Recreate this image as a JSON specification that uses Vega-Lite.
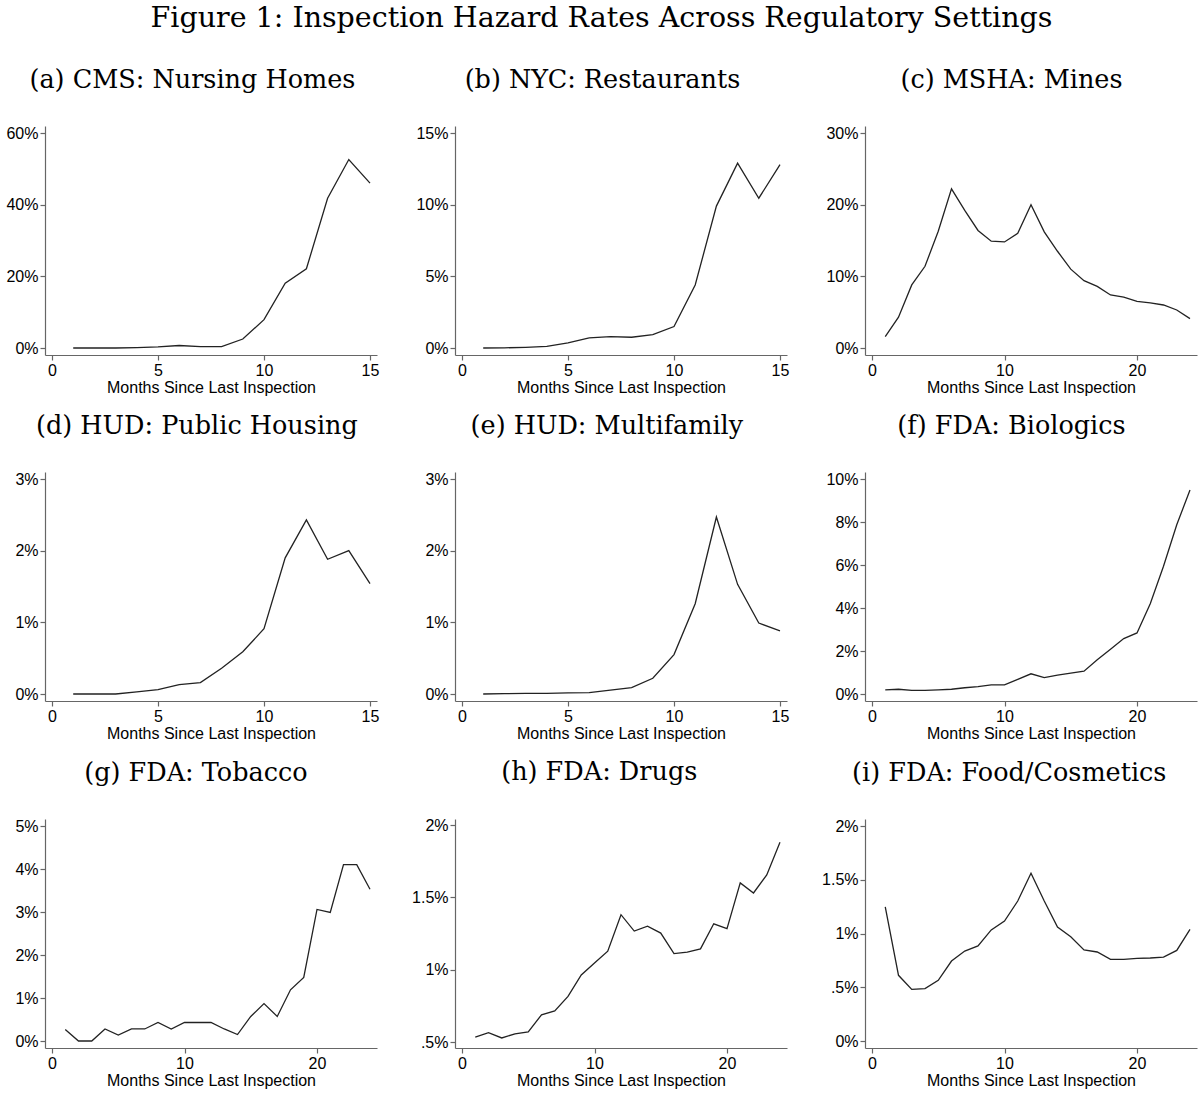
{
  "$schema": "https://vega.github.io/schema/vega-lite/v6.json",
  "background": "white",
  "padding": {"left": 5, "top": 4, "right": 5, "bottom": 5},
  "title": {"text": "Figure 1: Inspection Hazard Rates Across Regulatory Settings", "font": "DejaVu Serif", "fontSize": 28.5, "fontWeight": "normal", "anchor": "middle", "offset": 35, "color": "#000"},
  "datasets": {
    "rates": [
      {"panel":"a","month":1,"rate":0},{"panel":"a","month":2,"rate":0},{"panel":"a","month":3,"rate":0},{"panel":"a","month":4,"rate":0.1},{"panel":"a","month":5,"rate":0.3},{"panel":"a","month":6,"rate":0.7},{"panel":"a","month":7,"rate":0.4},{"panel":"a","month":8,"rate":0.4},{"panel":"a","month":9,"rate":2.5},{"panel":"a","month":10,"rate":7.9},{"panel":"a","month":11,"rate":18.1},{"panel":"a","month":12,"rate":22.1},{"panel":"a","month":13,"rate":41.8},{"panel":"a","month":14,"rate":52.6},{"panel":"a","month":15,"rate":46.0},
      {"panel":"b","month":1,"rate":0},{"panel":"b","month":2,"rate":0.01},{"panel":"b","month":3,"rate":0.05},{"panel":"b","month":4,"rate":0.12},{"panel":"b","month":5,"rate":0.35},{"panel":"b","month":6,"rate":0.7},{"panel":"b","month":7,"rate":0.8},{"panel":"b","month":8,"rate":0.75},{"panel":"b","month":9,"rate":0.93},{"panel":"b","month":10,"rate":1.5},{"panel":"b","month":11,"rate":4.4},{"panel":"b","month":12,"rate":9.9},{"panel":"b","month":13,"rate":12.9},{"panel":"b","month":14,"rate":10.45},{"panel":"b","month":15,"rate":12.8},
      {"panel":"c","month":1,"rate":1.6},{"panel":"c","month":2,"rate":4.3},{"panel":"c","month":3,"rate":8.8},{"panel":"c","month":4,"rate":11.4},{"panel":"c","month":5,"rate":16.3},{"panel":"c","month":6,"rate":22.2},{"panel":"c","month":7,"rate":19.2},{"panel":"c","month":8,"rate":16.4},{"panel":"c","month":9,"rate":14.9},{"panel":"c","month":10,"rate":14.8},{"panel":"c","month":11,"rate":16.0},{"panel":"c","month":12,"rate":20.0},{"panel":"c","month":13,"rate":16.2},{"panel":"c","month":14,"rate":13.5},{"panel":"c","month":15,"rate":11.0},{"panel":"c","month":16,"rate":9.4},{"panel":"c","month":17,"rate":8.6},{"panel":"c","month":18,"rate":7.4},{"panel":"c","month":19,"rate":7.1},{"panel":"c","month":20,"rate":6.5},{"panel":"c","month":21,"rate":6.3},{"panel":"c","month":22,"rate":6.0},{"panel":"c","month":23,"rate":5.3},{"panel":"c","month":24,"rate":4.1},
      {"panel":"d","month":1,"rate":0},{"panel":"d","month":2,"rate":0},{"panel":"d","month":3,"rate":0},{"panel":"d","month":4,"rate":0.03},{"panel":"d","month":5,"rate":0.06},{"panel":"d","month":6,"rate":0.13},{"panel":"d","month":7,"rate":0.16},{"panel":"d","month":8,"rate":0.36},{"panel":"d","month":9,"rate":0.59},{"panel":"d","month":10,"rate":0.91},{"panel":"d","month":11,"rate":1.9},{"panel":"d","month":12,"rate":2.43},{"panel":"d","month":13,"rate":1.88},{"panel":"d","month":14,"rate":2.0},{"panel":"d","month":15,"rate":1.54},
      {"panel":"e","month":1,"rate":0},{"panel":"e","month":2,"rate":0.005},{"panel":"e","month":3,"rate":0.01},{"panel":"e","month":4,"rate":0.01},{"panel":"e","month":5,"rate":0.015},{"panel":"e","month":6,"rate":0.02},{"panel":"e","month":7,"rate":0.055},{"panel":"e","month":8,"rate":0.09},{"panel":"e","month":9,"rate":0.22},{"panel":"e","month":10,"rate":0.55},{"panel":"e","month":11,"rate":1.26},{"panel":"e","month":12,"rate":2.47},{"panel":"e","month":13,"rate":1.53},{"panel":"e","month":14,"rate":0.99},{"panel":"e","month":15,"rate":0.88},
      {"panel":"f","month":1,"rate":0.19},{"panel":"f","month":2,"rate":0.22},{"panel":"f","month":3,"rate":0.17},{"panel":"f","month":4,"rate":0.17},{"panel":"f","month":5,"rate":0.19},{"panel":"f","month":6,"rate":0.22},{"panel":"f","month":7,"rate":0.29},{"panel":"f","month":8,"rate":0.34},{"panel":"f","month":9,"rate":0.42},{"panel":"f","month":10,"rate":0.42},{"panel":"f","month":11,"rate":0.68},{"panel":"f","month":12,"rate":0.94},{"panel":"f","month":13,"rate":0.76},{"panel":"f","month":14,"rate":0.88},{"panel":"f","month":15,"rate":0.97},{"panel":"f","month":16,"rate":1.06},{"panel":"f","month":17,"rate":1.59},{"panel":"f","month":18,"rate":2.08},{"panel":"f","month":19,"rate":2.58},{"panel":"f","month":20,"rate":2.84},{"panel":"f","month":21,"rate":4.2},{"panel":"f","month":22,"rate":5.94},{"panel":"f","month":23,"rate":7.87},{"panel":"f","month":24,"rate":9.49},
      {"panel":"g","month":1,"rate":0.27},{"panel":"g","month":2,"rate":0},{"panel":"g","month":3,"rate":0},{"panel":"g","month":4,"rate":0.28},{"panel":"g","month":5,"rate":0.14},{"panel":"g","month":6,"rate":0.28},{"panel":"g","month":7,"rate":0.28},{"panel":"g","month":8,"rate":0.43},{"panel":"g","month":9,"rate":0.28},{"panel":"g","month":10,"rate":0.43},{"panel":"g","month":11,"rate":0.43},{"panel":"g","month":12,"rate":0.43},{"panel":"g","month":13,"rate":0.28},{"panel":"g","month":14,"rate":0.15},{"panel":"g","month":15,"rate":0.57},{"panel":"g","month":16,"rate":0.87},{"panel":"g","month":17,"rate":0.57},{"panel":"g","month":18,"rate":1.19},{"panel":"g","month":19,"rate":1.48},{"panel":"g","month":20,"rate":3.06},{"panel":"g","month":21,"rate":2.99},{"panel":"g","month":22,"rate":4.1},{"panel":"g","month":23,"rate":4.1},{"panel":"g","month":24,"rate":3.53},
      {"panel":"h","month":1,"rate":0.533},{"panel":"h","month":2,"rate":0.565},{"panel":"h","month":3,"rate":0.528},{"panel":"h","month":4,"rate":0.556},{"panel":"h","month":5,"rate":0.569},{"panel":"h","month":6,"rate":0.688},{"panel":"h","month":7,"rate":0.715},{"panel":"h","month":8,"rate":0.815},{"panel":"h","month":9,"rate":0.963},{"panel":"h","month":10,"rate":1.046},{"panel":"h","month":11,"rate":1.128},{"panel":"h","month":12,"rate":1.38},{"panel":"h","month":13,"rate":1.267},{"panel":"h","month":14,"rate":1.301},{"panel":"h","month":15,"rate":1.253},{"panel":"h","month":16,"rate":1.111},{"panel":"h","month":17,"rate":1.121},{"panel":"h","month":18,"rate":1.144},{"panel":"h","month":19,"rate":1.317},{"panel":"h","month":20,"rate":1.283},{"panel":"h","month":21,"rate":1.6},{"panel":"h","month":22,"rate":1.53},{"panel":"h","month":23,"rate":1.655},{"panel":"h","month":24,"rate":1.88},
      {"panel":"i","month":1,"rate":1.247},{"panel":"i","month":2,"rate":0.611},{"panel":"i","month":3,"rate":0.48},{"panel":"i","month":4,"rate":0.487},{"panel":"i","month":5,"rate":0.564},{"panel":"i","month":6,"rate":0.744},{"panel":"i","month":7,"rate":0.837},{"panel":"i","month":8,"rate":0.884},{"panel":"i","month":9,"rate":1.033},{"panel":"i","month":10,"rate":1.116},{"panel":"i","month":11,"rate":1.302},{"panel":"i","month":12,"rate":1.56},{"panel":"i","month":13,"rate":1.302},{"panel":"i","month":14,"rate":1.06},{"panel":"i","month":15,"rate":0.97},{"panel":"i","month":16,"rate":0.847},{"panel":"i","month":17,"rate":0.828},{"panel":"i","month":18,"rate":0.76},{"panel":"i","month":19,"rate":0.76},{"panel":"i","month":20,"rate":0.769},{"panel":"i","month":21,"rate":0.772},{"panel":"i","month":22,"rate":0.781},{"panel":"i","month":23,"rate":0.843},{"panel":"i","month":24,"rate":1.039}
    ]
  },
  "data": {"name": "rates"},
  "columns": 3,
  "spacing": {"row": 18, "column": 32},
  "concat": [
    {"title": "(a) CMS: Nursing Homes", "width": 332, "height": 229,
     "transform": [{"filter": "datum.panel == 'a'"}],
     "mark": {"type": "line", "color": "#222", "strokeWidth": 1.3},
     "encoding": {
       "x": {"field": "month", "type": "quantitative", "scale": {"domain": [0, 15], "nice": false, "padding": 7}, "axis": {"values": [0, 5, 10, 15], "title": "Months Since Last Inspection"}},
       "y": {"field": "rate", "type": "quantitative", "scale": {"domain": [0, 60], "nice": false, "zero": false, "padding": 7}, "axis": {"values": [0, 20, 40, 60], "labelExpr": "datum.value + '%'"}}
     }},
    {"title": "(b) NYC: Restaurants", "width": 332, "height": 229,
     "transform": [{"filter": "datum.panel == 'b'"}],
     "mark": {"type": "line", "color": "#222", "strokeWidth": 1.3},
     "encoding": {
       "x": {"field": "month", "type": "quantitative", "scale": {"domain": [0, 15], "nice": false, "padding": 7}, "axis": {"values": [0, 5, 10, 15], "title": "Months Since Last Inspection"}},
       "y": {"field": "rate", "type": "quantitative", "scale": {"domain": [0, 15], "nice": false, "zero": false, "padding": 7}, "axis": {"values": [0, 5, 10, 15], "labelExpr": "datum.value + '%'"}}
     }},
    {"title": "(c) MSHA: Mines", "width": 332, "height": 229,
     "transform": [{"filter": "datum.panel == 'c'"}],
     "mark": {"type": "line", "color": "#222", "strokeWidth": 1.3},
     "encoding": {
       "x": {"field": "month", "type": "quantitative", "scale": {"domain": [0, 24], "nice": false, "padding": 7}, "axis": {"values": [0, 10, 20], "title": "Months Since Last Inspection"}},
       "y": {"field": "rate", "type": "quantitative", "scale": {"domain": [0, 30], "nice": false, "zero": false, "padding": 7}, "axis": {"values": [0, 10, 20, 30], "labelExpr": "datum.value + '%'"}}
     }},
    {"title": "(d) HUD: Public Housing", "width": 332, "height": 229,
     "transform": [{"filter": "datum.panel == 'd'"}],
     "mark": {"type": "line", "color": "#222", "strokeWidth": 1.3},
     "encoding": {
       "x": {"field": "month", "type": "quantitative", "scale": {"domain": [0, 15], "nice": false, "padding": 7}, "axis": {"values": [0, 5, 10, 15], "title": "Months Since Last Inspection"}},
       "y": {"field": "rate", "type": "quantitative", "scale": {"domain": [0, 3], "nice": false, "zero": false, "padding": 7}, "axis": {"values": [0, 1, 2, 3], "labelExpr": "datum.value + '%'"}}
     }},
    {"title": "(e) HUD: Multifamily", "width": 332, "height": 229,
     "transform": [{"filter": "datum.panel == 'e'"}],
     "mark": {"type": "line", "color": "#222", "strokeWidth": 1.3},
     "encoding": {
       "x": {"field": "month", "type": "quantitative", "scale": {"domain": [0, 15], "nice": false, "padding": 7}, "axis": {"values": [0, 5, 10, 15], "title": "Months Since Last Inspection"}},
       "y": {"field": "rate", "type": "quantitative", "scale": {"domain": [0, 3], "nice": false, "zero": false, "padding": 7}, "axis": {"values": [0, 1, 2, 3], "labelExpr": "datum.value + '%'"}}
     }},
    {"title": "(f) FDA: Biologics", "width": 332, "height": 229,
     "transform": [{"filter": "datum.panel == 'f'"}],
     "mark": {"type": "line", "color": "#222", "strokeWidth": 1.3},
     "encoding": {
       "x": {"field": "month", "type": "quantitative", "scale": {"domain": [0, 24], "nice": false, "padding": 7}, "axis": {"values": [0, 10, 20], "title": "Months Since Last Inspection"}},
       "y": {"field": "rate", "type": "quantitative", "scale": {"domain": [0, 10], "nice": false, "zero": false, "padding": 7}, "axis": {"values": [0, 2, 4, 6, 8, 10], "labelExpr": "datum.value + '%'"}}
     }},
    {"title": "(g) FDA: Tobacco", "width": 332, "height": 229,
     "transform": [{"filter": "datum.panel == 'g'"}],
     "mark": {"type": "line", "color": "#222", "strokeWidth": 1.3},
     "encoding": {
       "x": {"field": "month", "type": "quantitative", "scale": {"domain": [0, 24], "nice": false, "padding": 7}, "axis": {"values": [0, 10, 20], "title": "Months Since Last Inspection"}},
       "y": {"field": "rate", "type": "quantitative", "scale": {"domain": [0, 5], "nice": false, "zero": false, "padding": 7}, "axis": {"values": [0, 1, 2, 3, 4, 5], "labelExpr": "datum.value + '%'"}}
     }},
    {"title": "(h) FDA: Drugs", "width": 332, "height": 229,
     "transform": [{"filter": "datum.panel == 'h'"}],
     "mark": {"type": "line", "color": "#222", "strokeWidth": 1.3},
     "encoding": {
       "x": {"field": "month", "type": "quantitative", "scale": {"domain": [0, 24], "nice": false, "padding": 7}, "axis": {"values": [0, 10, 20], "title": "Months Since Last Inspection"}},
       "y": {"field": "rate", "type": "quantitative", "scale": {"domain": [0.5, 2], "nice": false, "zero": false, "padding": 6}, "axis": {"values": [0.5, 1, 1.5, 2], "labelExpr": "datum.value == 0.5 ? '.5%' : datum.value + '%'"}}
     }},
    {"title": "(i) FDA: Food/Cosmetics", "width": 332, "height": 229,
     "transform": [{"filter": "datum.panel == 'i'"}],
     "mark": {"type": "line", "color": "#222", "strokeWidth": 1.3},
     "encoding": {
       "x": {"field": "month", "type": "quantitative", "scale": {"domain": [0, 24], "nice": false, "padding": 7}, "axis": {"values": [0, 10, 20], "title": "Months Since Last Inspection"}},
       "y": {"field": "rate", "type": "quantitative", "scale": {"domain": [0, 2], "nice": false, "zero": false, "padding": 7}, "axis": {"values": [0, 0.5, 1, 1.5, 2], "labelExpr": "datum.value == 0.5 ? '.5%' : datum.value + '%'"}}
     }}
  ],
  "config": {
    "view": {"stroke": null},
    "axis": {"grid": false, "domainColor": "#666", "domainWidth": 1.2, "tickColor": "#666", "tickWidth": 1.2, "tickSize": 5, "labelColor": "#000", "labelFont": "Liberation Sans", "labelFontSize": 16, "labelPadding": 2, "labelFlush": false, "labelOverlap": false, "titleFont": "Liberation Sans", "titleFontSize": 16, "titleFontWeight": "normal", "titleColor": "#000", "titlePadding": 1},
    "axisY": {"title": null},
    "title": {"font": "DejaVu Serif", "fontSize": 25.5, "fontWeight": "normal", "anchor": "middle", "frame": "bounds", "offset": 32, "color": "#000"}
  }
}
